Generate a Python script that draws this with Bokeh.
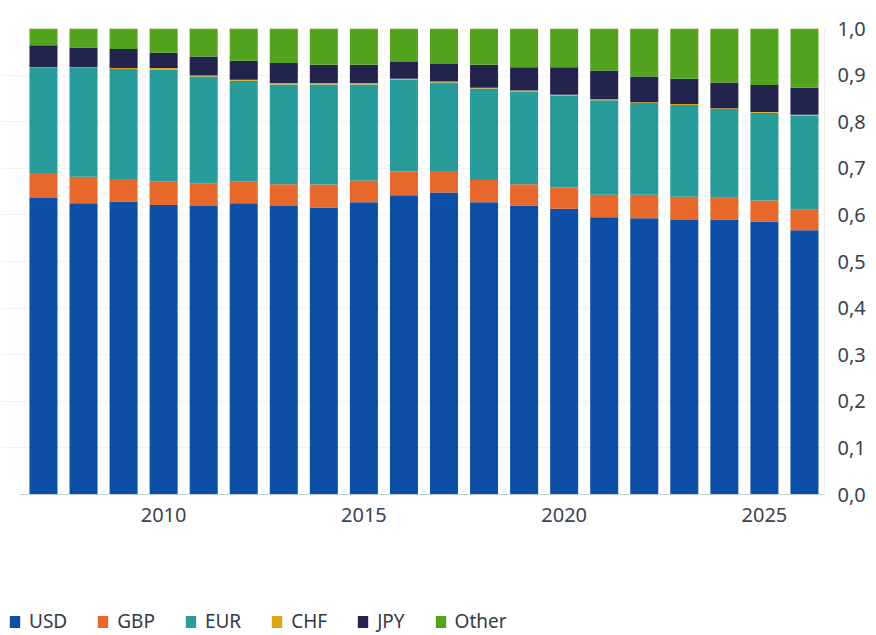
from bokeh.plotting import figure
from bokeh.layouts import column
from bokeh.models import (ColumnDataSource, Range1d, FixedTicker, CustomJSTickFormatter,
                          Legend, LegendItem)
from bokeh.embed import file_html
from bokeh.resources import INLINE

# ---- data (shares of total) ----
years = [2007, 2008, 2009, 2010, 2011, 2012, 2013, 2014, 2015, 2016,
         2017, 2018, 2019, 2020, 2021, 2022, 2023, 2024, 2025, 2026]
usd = [0.636, 0.625, 0.629, 0.621, 0.619, 0.625, 0.619, 0.616, 0.627, 0.642,
       0.648, 0.627, 0.620, 0.613, 0.595, 0.593, 0.589, 0.590, 0.586, 0.567]
gbp = [0.054, 0.057, 0.048, 0.051, 0.049, 0.047, 0.047, 0.049, 0.047, 0.051,
       0.046, 0.048, 0.046, 0.046, 0.048, 0.050, 0.050, 0.047, 0.045, 0.044]
eur = [0.225, 0.233, 0.236, 0.240, 0.229, 0.216, 0.214, 0.215, 0.206, 0.197,
       0.190, 0.196, 0.199, 0.197, 0.203, 0.197, 0.197, 0.190, 0.188, 0.202]
chf = [0.002, 0.002, 0.002, 0.003, 0.002, 0.002, 0.003, 0.003, 0.003, 0.002,
       0.002, 0.002, 0.002, 0.002, 0.002, 0.002, 0.002, 0.002, 0.002, 0.002]
jpy = [0.047, 0.042, 0.041, 0.033, 0.041, 0.041, 0.043, 0.039, 0.039, 0.036,
       0.038, 0.049, 0.050, 0.059, 0.062, 0.055, 0.054, 0.055, 0.058, 0.058]
other = [0.036, 0.041, 0.044, 0.052, 0.060, 0.069, 0.074, 0.078, 0.078, 0.072,
         0.076, 0.078, 0.083, 0.083, 0.090, 0.103, 0.108, 0.116, 0.121, 0.127]

series_names = ["USD", "GBP", "EUR", "CHF", "JPY", "Other"]
series_colors = ["#0d4fa6", "#e8672a", "#279c9a", "#dca614", "#22244d", "#53a31f"]
y_ticks = [0.0, 0.1, 0.2, 0.3, 0.4, 0.5, 0.6, 0.7, 0.8, 0.9, 1.0]
x_ticks = [2010, 2015, 2020, 2025]

source = ColumnDataSource(dict(year=years, USD=usd, GBP=gbp, EUR=eur,
                               CHF=chf, JPY=jpy, Other=other))

FONT = "Noto Sans"
TEXT = "#3a4350"
W = 868
PX_PER_YEAR = 40.15
X_END = 2026.5
X_START = X_END - (W - 42) / PX_PER_YEAR   # frame starts at the left page edge

p = figure(width=W, height=554, output_backend="svg", toolbar_location=None,
           x_range=Range1d(X_START, X_END), y_range=Range1d(0, 1.0),
           y_axis_location="right",
           min_border_left=0, min_border_right=42, min_border_top=28,
           min_border_bottom=60)
p.outline_line_color = None
p.background_fill_color = "white"

renderers = p.vbar_stack(series_names, x="year", width=0.7, color=series_colors,
                         line_color=None, source=source)

xa = p.xaxis[0]
xa.ticker = FixedTicker(ticks=x_ticks)
xa.bounds = (2006.43, X_END)
xa.axis_line_color = "#c5ccd6"
xa.major_tick_line_color = None
xa.minor_tick_line_color = None
xa.major_label_standoff = 7
xa.major_label_text_font = FONT
xa.major_label_text_font_size = "20px"
xa.major_label_text_color = TEXT

ya = p.yaxis[0]
ya.ticker = FixedTicker(ticks=y_ticks)
ya.formatter = CustomJSTickFormatter(code="return tick.toFixed(1).replace('.', ',');")
ya.axis_line_color = "#eef0f4"
ya.major_tick_line_color = None
ya.minor_tick_line_color = None
ya.major_label_standoff = 7
ya.major_label_text_font = FONT
ya.major_label_text_font_size = "20px"
ya.major_label_text_color = TEXT

p.xgrid.grid_line_color = None
p.ygrid.ticker = FixedTicker(ticks=y_ticks)
p.ygrid.grid_line_color = "#f1f3f6"
p.ygrid.level = "underlay"

# ---- legend strip below the chart (its key bars use the same data, kept out of view) ----
lg = figure(width=W, height=81, output_backend="svg", toolbar_location=None,
            x_range=Range1d(0, 1), y_range=Range1d(10, 11),
            x_axis_type=None, y_axis_type=None, min_border=0,
            min_border_left=0, min_border_right=0, min_border_top=0, min_border_bottom=0)
lg.outline_line_color = None
lg.border_fill_color = "white"
lg.background_fill_color = "white"
lg.xgrid.visible = False
lg.ygrid.visible = False
key_renderers = [lg.vbar(x="year", top=n, width=0.5, color=c, line_color=None, source=source)
                 for n, c in zip(series_names, series_colors)]

legend = Legend(items=[LegendItem(label=n, renderers=[r]) for n, r in zip(series_names, key_renderers)],
                location=(8, -1), orientation="horizontal",
                glyph_width=13, glyph_height=15, label_standoff=8, spacing=29,
                padding=0, margin=0, border_line_color=None, background_fill_alpha=0,
                label_text_font=FONT, label_text_font_size="19px",
                label_text_baseline="alphabetic",
                label_text_color="#333a45", label_height=30)
lg.add_layout(legend)

layout = column(p, lg, spacing=0)
open("out.html", "w").write(file_html(layout, INLINE))
